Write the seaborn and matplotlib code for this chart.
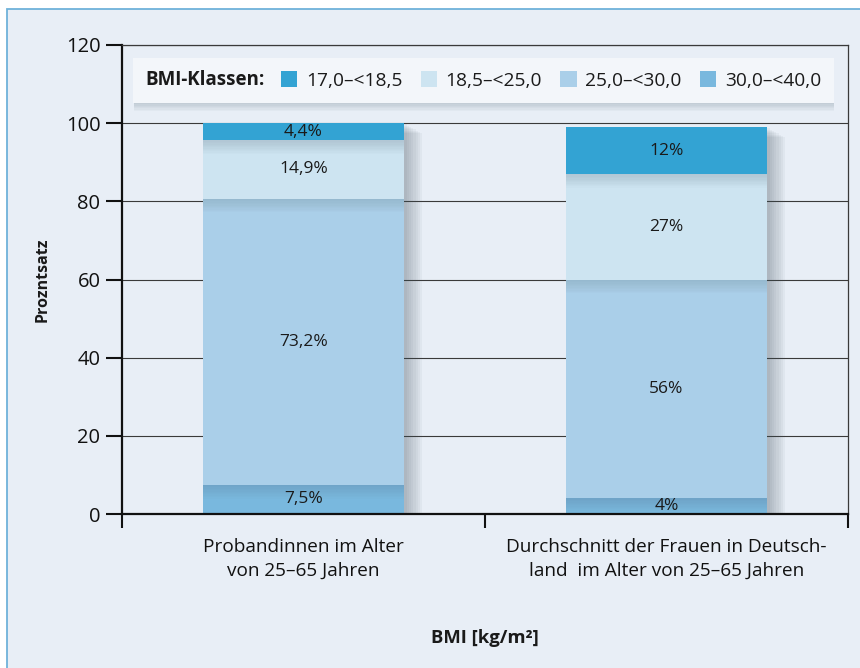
import numpy as np
import pandas as pd
import matplotlib
matplotlib.use("Agg")
import matplotlib.pyplot as plt
import matplotlib.patheffects as pe
from matplotlib.patches import Rectangle, Patch
from matplotlib.offsetbox import HPacker
import seaborn as sns

# ---- data -------------------------------------------------------------
groups = [
    "Probandinnen im Alter\nvon 25–65 Jahren",
    "Durchschnitt der Frauen in Deutsch-\nland  im Alter von 25–65 Jahren",
]
# BMI classes, stacked from bottom to top
classes = ["30,0–<40,0", "25,0–<30,0", "18,5–<25,0", "17,0–<18,5"]
shares_probandinnen = [7.5, 73.2, 14.9, 4.4]
shares_deutschland = [4, 56, 27, 12]
legend_order = ["17,0–<18,5", "18,5–<25,0", "25,0–<30,0", "30,0–<40,0"]
class_colors = {
    "17,0–<18,5": "#33a3d3",
    "18,5–<25,0": "#cde4f1",
    "25,0–<30,0": "#aacfe9",
    "30,0–<40,0": "#79b8de",
}
yticks = [0, 20, 40, 60, 80, 100, 120]

rows = []
for grp, shares in zip(groups, [shares_probandinnen, shares_deutschland]):
    bottom = 0.0
    for cls, val in zip(classes, shares):
        rows.append({"group": grp, "klasse": cls, "share": val, "bottom": bottom})
        bottom += val
df = pd.DataFrame(rows)
totals = df.groupby("group", sort=False)["share"].sum().reindex(groups).reset_index()


def pct(v):
    return f"{v:g}".replace(".", ",") + "%"


# ---- style ------------------------------------------------------------
sns.set_theme(style="white")
plt.rcParams["font.family"] = ["Open Sans", "DejaVu Sans"]
plt.rcParams["text.color"] = "#1a1a1a"
plt.rcParams["axes.labelcolor"] = "#1a1a1a"
plt.rcParams["xtick.color"] = "#111111"
plt.rcParams["ytick.color"] = "#111111"

W, H = 860, 668
fig = plt.figure(figsize=(W / 100, H / 100), dpi=100, facecolor="white")

# framed panel behind the chart
panel = Rectangle((7 / W, -0.05), 1.0, 1 - 9 / H + 0.05, transform=fig.transFigure,
                  facecolor="#e8eef6", edgecolor="#6fb2da", lw=1.3, zorder=-1)
fig.add_artist(panel)

left, right, bottom_px, top_px = 122, 848, 514, 45
ax = fig.add_axes([left / W, 1 - bottom_px / H, (right - left) / W, (bottom_px - top_px) / H])
ax.set_facecolor("none")

bar_width = 0.556

# full bars carrying a soft drop shadow to the right
drop_shadow = [pe.SimplePatchShadow(offset=(1.6 * k, -0.9 * k), shadow_rgbFace="#4a5563", alpha=0.05)
               for k in range(1, 9)] + [pe.Normal()]
sns.barplot(data=totals, x="group", y="share", order=groups, color=class_colors[classes[0]],
            saturation=1, width=bar_width, linewidth=0, errorbar=None, ax=ax,
            path_effects=drop_shadow)

# stacked segments; upper ones cast a faint shade onto the segment below
seg_shade = [pe.SimplePatchShadow(offset=(0, -k), shadow_rgbFace="#3a4a5a", alpha=0.016)
             for k in range(1, 11)] + [pe.Normal()]
for i, cls in enumerate(classes):
    sub = df[df["klasse"] == cls]
    sns.barplot(data=sub, x="group", y="share", order=groups, color=class_colors[cls],
                saturation=1, width=bar_width, linewidth=0, errorbar=None, ax=ax,
                bottom=sub["bottom"].to_numpy(),
                path_effects=(seg_shade if i > 0 else [pe.Normal()]))

# value labels in the middle of each segment
for xi, grp in enumerate(groups):
    for _, r in df[df["group"] == grp].iterrows():
        ax.text(xi, r["bottom"] + r["share"] / 2, pct(r["share"]), ha="center", va="center",
                fontsize=12.5, color="#1a1a1a", zorder=5)

# ---- axes -------------------------------------------------------------
ax.set_xlim(-0.5, 1.5)
ax.set_ylim(0, 120)
ax.set_yticks(yticks)
ax.set_yticklabels([str(t) for t in yticks])
ax.set_xticks([-0.5, 0.5, 1.5])
ax.set_xticklabels(["", "", ""])
ax.set_xticks([0, 1], minor=True)
ax.set_xticklabels(groups, minor=True, linespacing=1.45)
ax.tick_params(axis="x", which="minor", length=0, pad=17, labelsize=13.7)
ax.tick_params(axis="x", which="major", length=10, width=1.5, direction="out", bottom=True)
ax.tick_params(axis="y", length=11.5, width=1.5, direction="out", left=True, labelsize=14.5, pad=4)

ax.yaxis.grid(True, color="#3a3a3a", lw=0.8)
ax.xaxis.grid(False)
ax.set_axisbelow(True)

for side in ["left", "bottom"]:
    ax.spines[side].set_visible(True)
    ax.spines[side].set_color("#111111")
    ax.spines[side].set_linewidth(1.6)
for side in ["right", "top"]:
    ax.spines[side].set_visible(True)
    ax.spines[side].set_color("#3a3a3a")
    ax.spines[side].set_linewidth(0.9)

ax.set_ylabel("Prozntsatz", fontweight="bold", fontsize=11.5)
ax.yaxis.set_label_coords(-0.099, 0.5)
ax.set_xlabel("BMI [kg/m²]", fontweight="bold", fontsize=13.3)
ax.xaxis.set_label_coords(0.5, -0.245)

# ---- legend with inline title ----------------------------------------
handles = [Patch(facecolor=class_colors[c], edgecolor="none") for c in legend_order]
leg = ax.legend(handles, legend_order, title="BMI-Klassen:", ncol=4, loc="upper left",
                bbox_to_anchor=(0.0152, 0.9723), borderaxespad=0, fontsize=13.8,
                title_fontproperties={"weight": "bold", "size": 13.5},
                handlelength=0.85, handleheight=0.85, handletextpad=0.45, columnspacing=0.95,
                frameon=True, fancybox=False, framealpha=1, facecolor="#f3f6fa",
                edgecolor="none", borderpad=0.65)
fs = leg._fontsize
inline_box = HPacker(pad=leg.borderpad * fs, sep=0.85 * fs, align="center",
                     children=[leg._legend_title_box, leg._legend_handle_box])
inline_box.set_figure(fig)
inline_box.axes = ax
inline_box.set_offset(leg._findoffset)
leg._legend_box = inline_box
leg.legendPatch.set_path_effects(
    [pe.SimplePatchShadow(offset=(0.6, -k), shadow_rgbFace="#6a7a8c", alpha=0.05) for k in range(1, 7)]
    + [pe.Normal()])

fig.savefig("out.png", dpi=100, facecolor="white")
